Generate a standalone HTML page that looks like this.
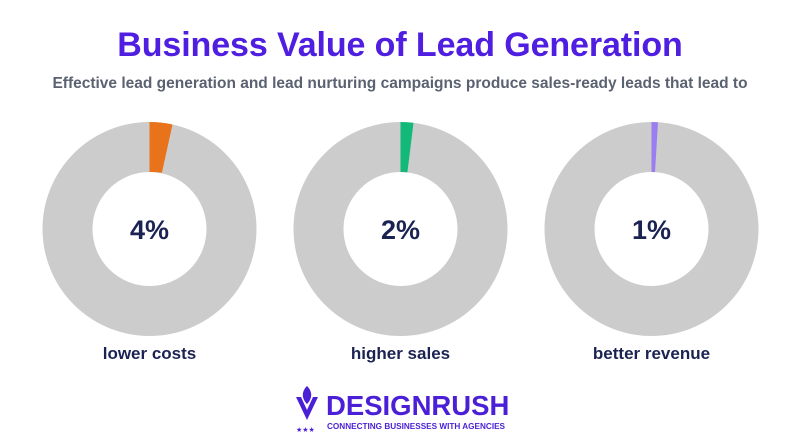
<!DOCTYPE html>
<html><head><meta charset="utf-8"><style>
body{margin:0;width:800px;height:440px;background:#fff;font-family:"Liberation Sans",sans-serif;overflow:hidden;position:relative}
.t{position:absolute;left:0;width:800px;text-align:center}
</style></head><body>
<div class="t" style="top:26px;font-size:34px;font-weight:bold;color:#4f1ee0;letter-spacing:-0.1px">Business Value of Lead Generation</div>
<div class="t" style="top:75px;font-size:15.5px;font-weight:bold;color:#5a6170">Effective lead generation and lead nurturing campaigns produce sales-ready leads that lead to</div>
<svg width="800" height="440" style="position:absolute;left:0;top:0">
<g font-family="Liberation Sans" font-weight="bold" text-anchor="middle">
<circle cx="149.5" cy="229" r="82" fill="none" stroke="#cccccc" stroke-width="50"/>
<path d="M149.5 122 A107 107 0 0 1 172.5 124.5 L161.9 172.8 A57 57 0 0 0 149.5 172 Z" fill="#e8731a"/>
<text x="149.5" y="239" font-size="27" fill="#1b2352">4%</text>
<text x="149.5" y="359" font-size="17" fill="#1b2352">lower costs</text>
<circle cx="400.5" cy="229" r="82" fill="none" stroke="#cccccc" stroke-width="50"/>
<path d="M400.5 122 A107 107 0 0 1 413.5 122.8 L407.4 172.4 A57 57 0 0 0 400.5 172 Z" fill="#13b978"/>
<text x="400.5" y="239" font-size="27" fill="#1b2352">2%</text>
<text x="400.5" y="359" font-size="17" fill="#1b2352">higher sales</text>
<circle cx="651.5" cy="229" r="82" fill="none" stroke="#cccccc" stroke-width="50"/>
<path d="M651.5 122 A107 107 0 0 1 658 122.2 L655 172.1 A57 57 0 0 0 651.5 172 Z" fill="#9a7df0"/>
<text x="651.5" y="239" font-size="27" fill="#1b2352">1%</text>
<text x="651.5" y="359" font-size="17" fill="#1b2352">better revenue</text>
</g>
<g fill="#4a1fd6">
<path d="M296 397 L307 420 L318 397 L313 397 L307 410 L301 397Z"/>
<path d="M307 386 C300 393 303 400 307 404 C311 400 314 393 307 386Z"/>
<text x="296" y="432" font-size="7" font-family="DejaVu Sans">★★★</text>
<text x="326" y="415" font-size="27.5" font-weight="bold" font-family="Liberation Sans">DESIGNRUSH</text>
<text x="327" y="429" font-size="8.2" font-weight="bold" font-family="Liberation Sans">CONNECTING BUSINESSES WITH AGENCIES</text>
</g>
</svg>
</body></html>
